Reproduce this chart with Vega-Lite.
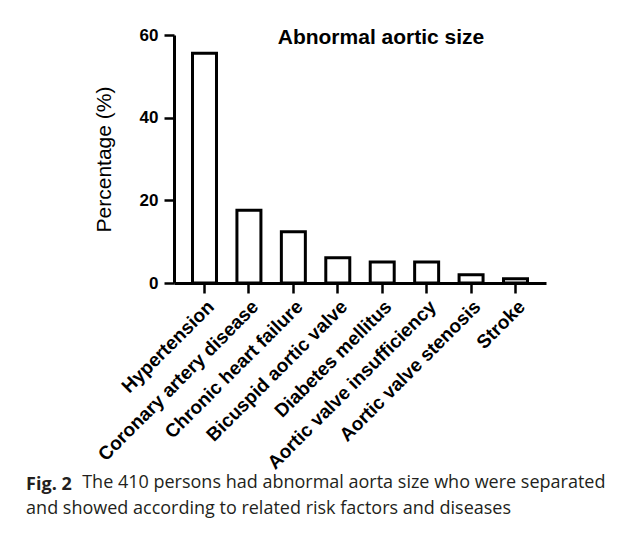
{
  "$schema": "https://vega.github.io/schema/vega-lite/v6.json",
  "padding": {"left": 26, "top": 26, "right": 5, "bottom": 5},
  "background": "white",
  "config": {"view": {"stroke": null}, "font": "Liberation Sans"},
  "title": {
    "text": "Fig. 2",
    "subtitle": ["\u200b\u00a0\u00a0\u00a0\u00a0\u00a0\u00a0\u00a0\u00a0\u00a0\u00a0\u00a0\u00a0The 410 persons had abnormal aorta size who were separated", "and showed according to related risk factors and diseases"],
    "orient": "bottom",
    "anchor": "start",
    "dx": -67,
    "offset": 4,
    "font": "Open Sans",
    "fontSize": 18,
    "fontWeight": "bold",
    "color": "#231f20",
    "subtitleFont": "Open Sans",
    "subtitleFontSize": 18,
    "subtitleFontWeight": "normal",
    "subtitleColor": "#231f20",
    "subtitleLineHeight": 26,
    "subtitlePadding": -20
  },
  "vconcat": [
    {
      "width": 372,
      "height": 248,
      "title": {
        "text": "Abnormal aortic size",
        "anchor": "middle",
        "frame": "group",
        "dx": 21,
        "offset": -22,
        "font": "Liberation Sans",
        "fontSize": 21,
        "fontWeight": "bold",
        "color": "black"
      },
      "data": {
        "values": [
          {"condition": "Hypertension", "percentage": 55.6},
          {"condition": "Coronary artery disease", "percentage": 17.6},
          {"condition": "Chronic heart failure", "percentage": 12.4},
          {"condition": "Bicuspid aortic valve", "percentage": 6.1},
          {"condition": "Diabetes mellitus", "percentage": 5.1},
          {"condition": "Aortic valve insufficiency", "percentage": 5.1},
          {"condition": "Aortic valve stenosis", "percentage": 2.0},
          {"condition": "Stroke", "percentage": 1.0}
        ]
      },
      "mark": {"type": "bar", "fill": "white", "stroke": "black", "strokeWidth": 3},
      "encoding": {
        "x": {
          "field": "condition",
          "type": "nominal",
          "sort": null,
          "scale": {"paddingInner": 0.46, "paddingOuter": 0.4165},
          "axis": {
            "title": null,
            "labelAngle": -45,
            "labelLimit": 0,
            "labelFontSize": 19,
            "labelFontWeight": "bold",
            "labelColor": "black",
            "labelPadding": 4,
            "tickSize": 10,
            "tickWidth": 2.5,
            "tickColor": "black",
            "domainWidth": 3,
            "domainColor": "black"
          }
        },
        "y": {
          "field": "percentage",
          "type": "quantitative",
          "scale": {"domain": [0, 60], "nice": false},
          "axis": {
            "title": "Percentage (%)",
            "values": [0, 20, 40, 60],
            "grid": false,
            "domainWidth": 3,
            "domainColor": "black",
            "tickColor": "black",
            "tickWidth": 2.5,
            "tickSize": 10,
            "labelFontSize": 17,
            "labelFontWeight": "bold",
            "labelColor": "black",
            "labelPadding": 6,
            "titleFont": "Liberation Sans",
            "titleFontSize": 21,
            "titleFontWeight": "normal",
            "titleColor": "black",
            "titlePadding": 25
          }
        }
      }
    }
  ]
}
